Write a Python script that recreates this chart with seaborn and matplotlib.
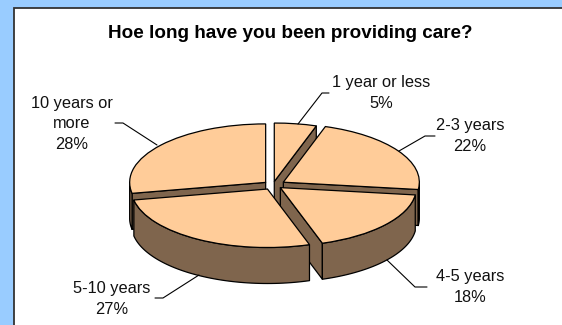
import numpy as np
import matplotlib
matplotlib.use("Agg")
import matplotlib.pyplot as plt
import seaborn as sns

title = "Hoe long have you been providing care?"
categories = ["1 year or less", "2-3 years", "4-5 years", "5-10 years", "10 years or\nmore"]
values = [5, 22, 18, 27, 28]
explode = [0.06, 0.09, 0.07, 0.08, 0.07]

BLUE, TOP, SIDE = "#99CCFF", "#FFCC99", "#7F654D"
SQUASH = 0.43
W, H = 562, 325
CX, CY, RADIUS, DEPTH = 273, 185, 136, 36

sns.set_theme(style="white")
plt.rcParams["font.family"] = ["Liberation Sans", "DejaVu Sans"]

fig = plt.figure(figsize=(W / 100, H / 100), dpi=100, facecolor=BLUE)

# pixel-space overlay helper
back = fig.add_axes([0, 0, 1, 1], zorder=0)
back.set_xlim(0, W); back.set_ylim(H, 0); back.axis("off")
back.add_patch(plt.Rectangle((14, 8), W, H, fc="white", ec="#333333", lw=1.3))

ax = fig.add_axes([0, 0, 1, 1], zorder=1)
ax.patch.set_alpha(0)
wedges, _ = ax.pie(values, explode=[e * RADIUS for e in explode], startangle=90, counterclock=False,
                   radius=RADIUS, center=(CX, (H - CY) / SQUASH),
                   colors=[TOP], wedgeprops=dict(edgecolor="black", linewidth=0.9))
ax.set_aspect("auto")
ax.set_xlim(0, W)
ax.set_ylim(0, H / SQUASH)
ax.axis("off")

d = DEPTH / SQUASH
paint_order = [0, 1, 4, 2, 3]
style = dict(fc=SIDE, ec="black", lw=0.9, joinstyle="round")


def point(w, deg):
    a = np.radians(deg)
    return w.center[0] + w.r * np.cos(a), w.center[1] + w.r * np.sin(a)


def extrude(xs, ys):
    xs, ys = np.asarray(xs), np.asarray(ys)
    return np.column_stack([np.r_[xs, xs[::-1]], np.r_[ys, ys[::-1] - d]])


for k, i in enumerate(paint_order):
    w = wedges[i]
    z = 2 + 2 * k
    t1, t2 = w.theta1, w.theta2
    # cut faces that look down towards the viewer
    if np.sin(np.radians(t1 - 90)) < -1e-6:
        p = point(w, t1)
        ax.add_patch(plt.Polygon(extrude([w.center[0], p[0]], [w.center[1], p[1]]), zorder=z, **style))
    if np.sin(np.radians(t2 + 90)) < -1e-6:
        p = point(w, t2)
        ax.add_patch(plt.Polygon(extrude([w.center[0], p[0]], [w.center[1], p[1]]), zorder=z, **style))
    # rim: the part of the arc on the lower half of the ellipse
    for lo, hi in [(t1, t2), (t1 - 360, t2 - 360), (t1 + 360, t2 + 360)]:
        a0, a1 = max(lo, 180), min(hi, 360)
        if a1 > a0:
            deg = np.linspace(a0, a1, 60)
            x, y = point(w, deg)
            ax.add_patch(plt.Polygon(extrude(x, y), zorder=z + 0.5, **style))
    w.set_zorder(z + 1)

over = fig.add_axes([0, 0, 1, 1], zorder=2)
over.set_xlim(0, W); over.set_ylim(H, 0); over.axis("off")

over.text(290, 33, title, ha="center", va="center", fontsize=13.6, fontweight="bold", color="black")

percent = [f"{v}%" for v in values]
label_xy = [(381, 93), (470, 136), (470, 287), (112, 299), (72, 124)]
for name, pct, (x, y) in zip(categories, percent, label_xy):
    over.text(x, y, f"{name}\n{pct}", ha="center", va="center", fontsize=11.8,
              color="#111111", linespacing=1.46)

leaders = [
    ([298, 322, 329], [124, 93, 93]),
    ([399, 425, 435], [151, 136, 136]),
    ([387, 415, 427], [260, 287, 287]),
    ([199, 163, 155], [275, 298, 298]),
    ([157, 123, 115], [145, 123, 123]),
]
for xs, ys in leaders:
    over.plot(xs, ys, color="black", lw=0.8)

fig.savefig("out.png", dpi=100, facecolor=BLUE)
